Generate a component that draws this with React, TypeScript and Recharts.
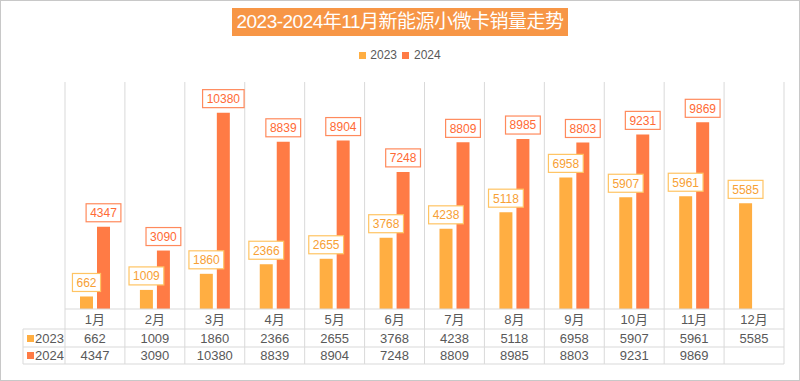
import React from 'react';
import { BarChart, Bar, XAxis, YAxis, Legend, LabelList } from 'recharts';

const months = ['1月', '2月', '3月', '4月', '5月', '6月', '7月', '8月', '9月', '10月', '11月', '12月'];
const sales2023 = [662, 1009, 1860, 2366, 2655, 3768, 4238, 5118, 6958, 5907, 5961, 5585];
const sales2024: (number | null)[] = [4347, 3090, 10380, 8839, 8904, 7248, 8809, 8985, 8803, 9231, 9869, null];
const yTicks = [0, 12000];

const C2023 = '#FFAE42';
const C2024 = '#FF7B45';
const GRID = '#D9D9D9';
const TXT = '#595959';
const FONT = '"Liberation Sans", Arial, "Noto Sans CJK SC", sans-serif';

const W = 800;
const H = 381;
const M = { top: 82, right: 16, bottom: 17, left: 65 };
const plotW = W - M.left - M.right;
const plotH = 227;
const band = plotW / months.length;
const tableLeft = 23;

const data = months.map((m, i) => ({ month: m, y2023: sales2023[i], y2024: sales2024[i] }));

const TableTick = (props: any) => {
  const { x, y, payload } = props;
  const i = payload.index;
  const left = x - band / 2;
  const right = x + band / 2;
  const r1 = y + 20;
  const r2 = y + 38;
  const r3 = y + 55;
  const v23 = sales2023[i];
  const v24 = sales2024[i];
  return (
    <g fontFamily={FONT} fontSize={13} fill={TXT}>
      {i === 0 && (
        <g>
          <line x1={left} x2={left + plotW} y1={y} y2={y} stroke={GRID} />
          <line x1={tableLeft} x2={left + plotW} y1={r1} y2={r1} stroke={GRID} />
          <line x1={tableLeft} x2={left + plotW} y1={r2} y2={r2} stroke={GRID} />
          <line x1={tableLeft} x2={left + plotW} y1={r3} y2={r3} stroke={GRID} />
          <line x1={tableLeft} x2={tableLeft} y1={r1} y2={r3} stroke={GRID} />
          <rect x={tableLeft + 4} y={r1 + 6} width={7} height={7} fill={C2023} />
          <text x={tableLeft + 12} y={(r1 + r2) / 2} dy="0.36em">2023</text>
          <rect x={tableLeft + 4} y={r2 + 5} width={7} height={7} fill={C2024} />
          <text x={tableLeft + 12} y={(r2 + r3) / 2} dy="0.36em">2024</text>
        </g>
      )}
      <line x1={left} x2={left} y1={y - plotH} y2={r3} stroke={GRID} />
      {i === months.length - 1 && <line x1={right} x2={right} y1={y - plotH} y2={r3} stroke={GRID} />}
      <text x={x} y={(y + r1) / 2} dy="0.36em" textAnchor="middle">{payload.value}</text>
      <text x={x} y={(r1 + r2) / 2} dy="0.36em" textAnchor="middle">{v23}</text>
      {v24 != null && <text x={x} y={(r2 + r3) / 2} dy="0.36em" textAnchor="middle">{v24}</text>}
    </g>
  );
};

const boxLabel = (stroke: string, color: string) => (props: any) => {
  const { x, y, width, value } = props;
  if (value == null) return null;
  const s = String(value);
  const w = s.length * 6.7 + 8;
  const cx = x + width / 2;
  return (
    <g>
      <rect x={cx - w / 2} y={y - 23} width={w} height={18} fill="#fff" stroke={stroke} strokeWidth={1.2} />
      <text x={cx} y={y - 14} dy="0.36em" textAnchor="middle" fontFamily={FONT} fontSize={12} fill={color}>{s}</text>
    </g>
  );
};

const LegendBox = () => (
  <div style={{ display: 'flex', justifyContent: 'center', alignItems: 'center', fontFamily: FONT, fontSize: 12, color: TXT }}>
    <span style={{ width: 7, height: 7, background: C2023, display: 'inline-block', marginRight: 4 }} />
    <span style={{ marginRight: 5 }}>2023</span>
    <span style={{ width: 7, height: 7, background: C2024, display: 'inline-block', marginRight: 5 }} />
    <span>2024</span>
  </div>
);

export default function App() {
  return (
    <div style={{ position: 'fixed', left: 0, top: 0, width: W, height: H, background: '#fff' }}>
      <div style={{ position: 'absolute', left: 232, top: 8, width: 336, height: 28, background: '#F79646', color: '#fff', fontFamily: FONT, fontSize: 19, letterSpacing: -0.5, lineHeight: '28px', textAlign: 'center', whiteSpace: 'nowrap' }}>
        2023-2024年11月新能源小微卡销量走势
      </div>
      <BarChart width={W} height={H} data={data} margin={M} barSize={13} barGap={4}>
        <XAxis dataKey="month" height={55} axisLine={false} tickLine={false} tickSize={0} tickMargin={0} interval={0} tick={<TableTick />} />
        <YAxis hide domain={[yTicks[0], yTicks[1]]} ticks={yTicks} />
        <Legend layout="horizontal" verticalAlign="middle" align="center" content={<LegendBox />} wrapperStyle={{ top: 48, left: 0, width: W, height: 16 }} />
        <Bar dataKey="y2023" name="2023" fill={C2023} isAnimationActive={false}>
          <LabelList dataKey="y2023" content={boxLabel('#FFC463', '#F7A035')} />
        </Bar>
        <Bar dataKey="y2024" name="2024" fill={C2024} isAnimationActive={false}>
          <LabelList dataKey="y2024" content={boxLabel('#FF8A5C', '#FF6A35')} />
        </Bar>
      </BarChart>
      <div style={{ position: 'absolute', left: 0, top: 0, width: W, height: H, boxSizing: 'border-box', border: '1px solid #C8C8C8', pointerEvents: 'none' }} />
    </div>
  );
}
